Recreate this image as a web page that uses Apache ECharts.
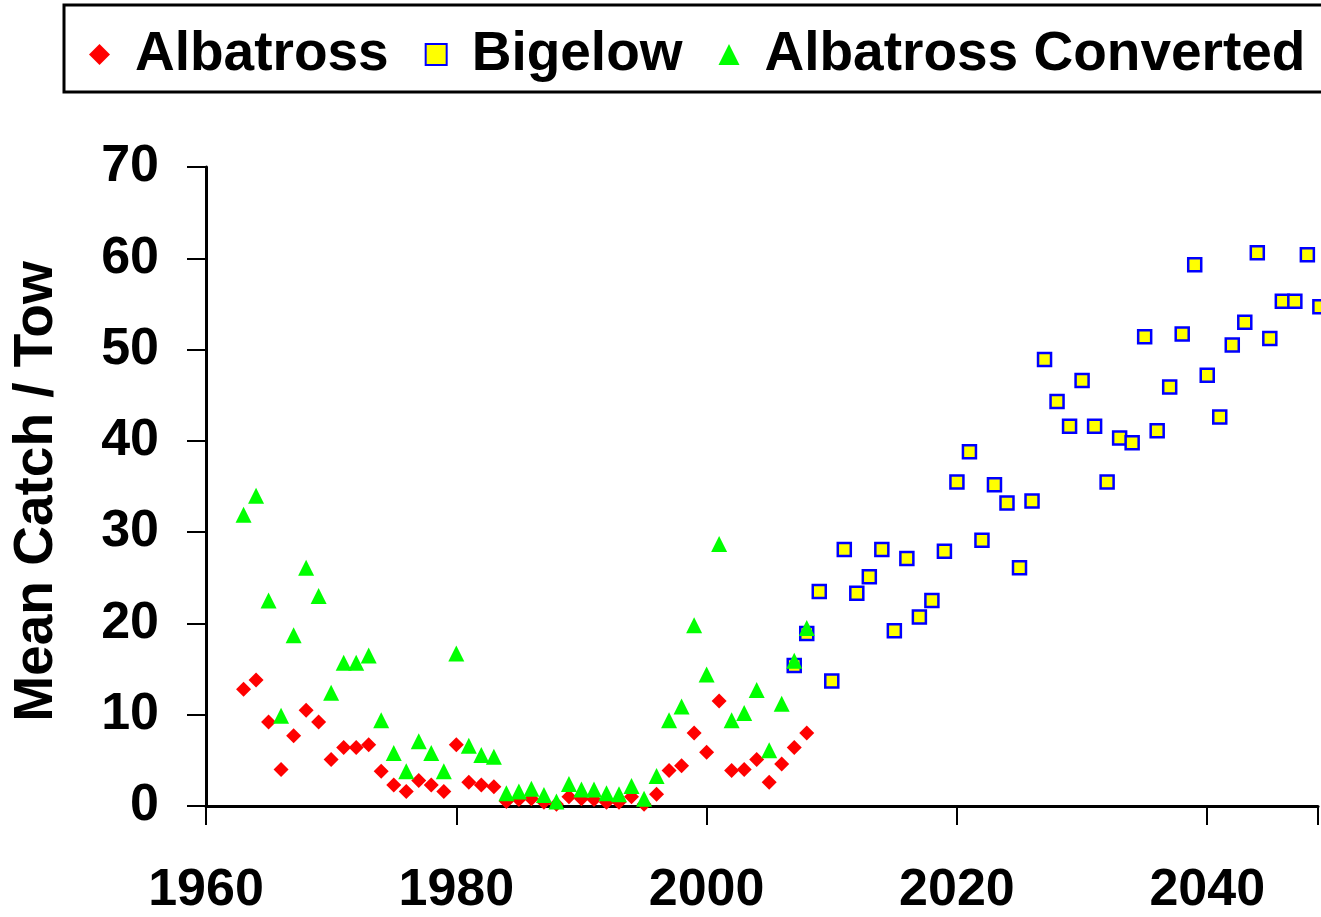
<!DOCTYPE html>
<html>
<head>
<meta charset="utf-8">
<title>Mean Catch / Tow</title>
<script src="https://cdn.jsdelivr.net/npm/echarts@6/dist/echarts.min.js"></script>
<style>
  html, body { margin: 0; padding: 0; background: #fff; }
  #chart { width: 1321px; height: 917px; }
</style>
</head>
<body>
<div id="chart"></div>
<script>
// Albatross survey (red diamonds)
const albatrossYears = [1963, 1964, 1965, 1966, 1967, 1968, 1969, 1970, 1971, 1972,
  1973, 1974, 1975, 1976, 1977, 1978, 1979, 1980, 1981, 1982,
  1983, 1984, 1985, 1986, 1987, 1988, 1989, 1990, 1991, 1992,
  1993, 1994, 1995, 1996, 1997, 1998, 1999, 2000, 2001, 2002,
  2003, 2004, 2005, 2006, 2007, 2008];
const albatrossValues = [12.8, 13.8, 9.2, 4.0, 7.7, 10.5, 9.2, 5.1, 6.4, 6.4,
  6.7, 3.8, 2.3, 1.6, 2.8, 2.3, 1.6, 6.7, 2.6, 2.3,
  2.1, 0.5, 0.7, 0.8, 0.4, 0.2, 1.0, 0.8, 0.7, 0.4,
  0.4, 1.0, 0.2, 1.3, 3.9, 4.4, 8.0, 5.9, 11.5, 3.9,
  4.0, 5.1, 2.6, 4.6, 6.4, 8.0];

// Albatross values converted (green triangles)
const convertedValues = [31.9, 34.0, 22.5, 9.9, 18.7, 26.1, 23.0, 12.4, 15.7, 15.7,
  16.5, 9.4, 5.8, 3.8, 7.1, 5.8, 3.8, 16.7, 6.6, 5.6,
  5.4, 1.4, 1.6, 1.9, 1.2, 0.5, 2.4, 1.8, 1.8, 1.4,
  1.3, 2.2, 0.8, 3.3, 9.4, 10.9, 19.8, 14.4, 28.7, 9.4,
  10.2, 12.7, 6.1, 11.2, 15.9, 19.5];

// Bigelow survey (yellow squares)
const bigelowYears = [2007, 2008, 2009, 2010, 2011, 2012, 2013, 2014, 2015, 2016,
  2017, 2018, 2019, 2020, 2021, 2022, 2023, 2024, 2025, 2026,
  2027, 2028, 2029, 2030, 2031, 2032, 2033, 2034, 2035, 2036,
  2037, 2038, 2039, 2040, 2041, 2042, 2043, 2044, 2045, 2046,
  2047, 2048, 2049];
const bigelowValues = [15.4, 18.9, 23.5, 13.7, 28.1, 23.3, 25.1, 28.1, 19.2, 27.1,
  20.7, 22.5, 27.9, 35.5, 38.8, 29.1, 35.2, 33.2, 26.1, 33.4,
  48.9, 44.3, 41.6, 46.6, 41.6, 35.5, 40.3, 39.8, 51.4, 41.1,
  45.9, 51.7, 59.3, 47.2, 42.6, 50.5, 53.0, 60.6, 51.2, 55.3,
  55.3, 60.4, 54.7];

const legendNames = ["Albatross", "Bigelow", "Albatross Converted"];
const yTitle = "Mean Catch / Tow";

function pairs(xs, ys) {
  let out = [];
  for (let i = 0; i < xs.length; i++) {
    out.push([xs[i], ys[i]]);
  }
  return out;
}

let font = '"Liberation Sans", Arial, sans-serif';
let myChart = echarts.init(document.getElementById("chart"));
let option = {
  animation: false,
  backgroundColor: "#ffffff",
  legend: {
    left: 64,
    top: 5,
    width: 1400,
    padding: [22, 30, 10, 25],
    borderColor: "#000000",
    borderWidth: 3,
    itemWidth: 21,
    itemHeight: 21,
    itemGap: 36,
    textStyle: {
      fontFamily: font,
      fontSize: 55,
      fontWeight: "bold",
      color: "#000000",
      padding: [0, 0, 0, 20]
    },
    data: legendNames
  },
  grid: {
    left: 206,
    top: 167,
    right: 0,
    bottom: 109,
    containLabel: false
  },
  xAxis: {
    type: "value",
    min: 1960,
    max: 2048.85,
    interval: 20,
    splitLine: { show: false },
    axisLine: { onZero: false, lineStyle: { color: "#000000", width: 3 } },
    axisTick: { inside: false, length: 19, lineStyle: { color: "#000000", width: 2 } },
    axisLabel: {
      margin: 59,
      fontFamily: font,
      fontSize: 52,
      fontWeight: "bold",
      color: "#000000",
      formatter: v => (v % 20 === 0 ? String(v) : "")
    }
  },
  yAxis: {
    type: "value",
    min: 0,
    max: 70,
    interval: 10,
    name: yTitle,
    nameLocation: "middle",
    nameGap: 142,
    nameTextStyle: {
      fontFamily: font,
      fontSize: 55,
      fontWeight: "bold",
      color: "#000000",
      padding: [0, 10, 0, 0]
    },
    splitLine: { show: false },
    axisLine: { show: true, lineStyle: { color: "#000000", width: 3 } },
    axisTick: { show: true, inside: false, length: 19, lineStyle: { color: "#000000", width: 2 } },
    axisLabel: {
      margin: 47,
      fontFamily: font,
      fontSize: 52,
      fontWeight: "bold",
      color: "#000000"
    }
  },
  series: [
    {
      name: "Albatross",
      type: "scatter",
      symbol: "diamond",
      symbolSize: 15,
      itemStyle: { color: "#ff0000", opacity: 1 },
      data: pairs(albatrossYears, albatrossValues)
    },
    {
      name: "Bigelow",
      type: "scatter",
      symbol: "rect",
      symbolSize: 13,
      clip: false,
      itemStyle: { color: "#ffff00", borderColor: "#0000ff", borderWidth: 2.5, opacity: 1 },
      data: pairs(bigelowYears, bigelowValues)
    },
    {
      name: "Albatross Converted",
      type: "scatter",
      symbol: "triangle",
      symbolSize: 16,
      itemStyle: { color: "#00ff00", opacity: 1 },
      data: pairs(albatrossYears, convertedValues)
    }
  ]
};
myChart.setOption(option);
window.addEventListener("resize", () => {
  myChart.resize();
});
</script>
</body>
</html>
